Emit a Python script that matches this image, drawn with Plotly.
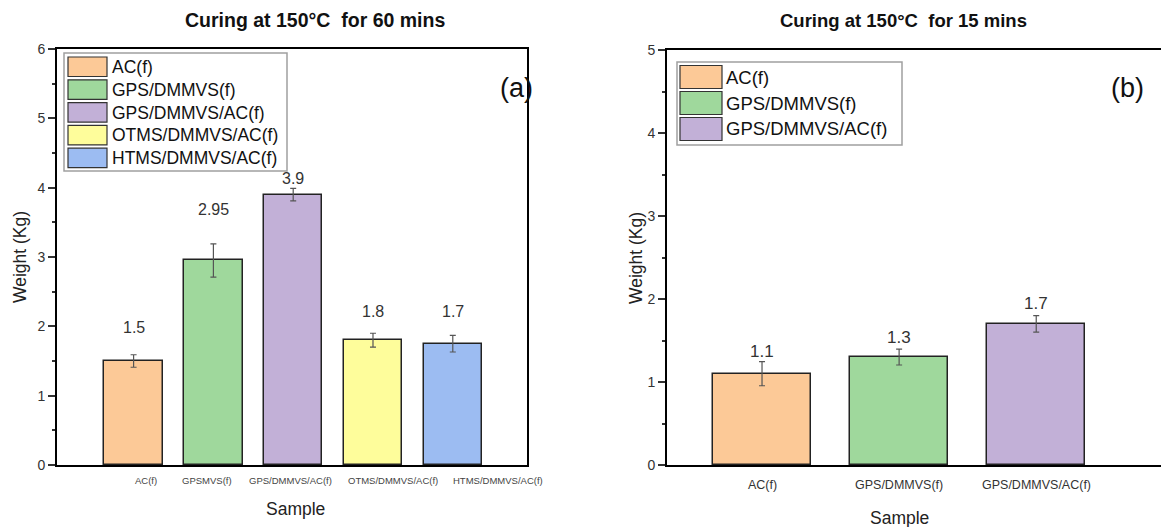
import plotly.graph_objects as go

# ---------------- data ----------------
cats_a = ["AC(f)", "GPSMVS(f)", "GPS/DMMVS/AC(f)", "OTMS/DMMVS/AC(f)", "HTMS/DMMVS/AC(f)"]
legend_a = ["AC(f)", "GPS/DMMVS(f)", "GPS/DMMVS/AC(f)", "OTMS/DMMVS/AC(f)", "HTMS/DMMVS/AC(f)"]
vals_a = [1.5, 2.95, 3.9, 1.8, 1.75]
errs_a = [0.09, 0.24, 0.09, 0.10, 0.12]
text_a = ["1.5", "2.95", "3.9", "1.8", "1.7"]
label_y_a = [1.99, 3.685, 4.13, 2.21, 2.21]
tick_shift_a = [12, -6, -3, 20, 45]

cats_b = ["AC(f)", "GPS/DMMVS(f)", "GPS/DMMVS/AC(f)"]
vals_b = [1.1, 1.3, 1.7]
errs_b = [0.145, 0.095, 0.10]
text_b = ["1.1", "1.3", "1.7"]
label_y_b = [1.37, 1.54, 1.94]

colors = ["#FCC997", "#9FD89C", "#C2B0D7", "#FEFD9B", "#9CBCF2"]

W, H = 1161, 527
FONT = "Arial, Liberation Sans, sans-serif"

def px(x):
    return x / W

def py(y):
    return 1 - y / H

fig = go.Figure()

for i, c in enumerate(cats_a):
    fig.add_trace(go.Bar(
        x=[i], y=[vals_a[i]], width=0.73,
        marker=dict(color=colors[i], line=dict(color="#222222", width=1.5)),
        error_y=dict(type="data", array=[errs_a[i]], color="#555555", thickness=1.2, width=3),
        xaxis="x", yaxis="y", showlegend=False))

for i, c in enumerate(cats_b):
    fig.add_trace(go.Bar(
        x=[i], y=[vals_b[i]], width=0.715,
        marker=dict(color=colors[i], line=dict(color="#222222", width=1.5)),
        error_y=dict(type="data", array=[errs_b[i]], color="#555555", thickness=1.2, width=3),
        xaxis="x2", yaxis="y2", showlegend=False))

ann = []

def note(x, y, text, size, color="#111111", xref="paper", yref="paper", xanchor="center",
         yanchor="middle", textangle=0, xshift=0):
    ann.append(dict(x=x, y=y, xref=xref, yref=yref, text=text, showarrow=False,
                    xanchor=xanchor, yanchor=yanchor, textangle=textangle, xshift=xshift,
                    font=dict(family=FONT, size=size, color=color)))

# value labels
for i, t in enumerate(text_a):
    note(i, label_y_a[i], t, 16, "#333333", xref="x", yref="y")
for i, t in enumerate(text_b):
    note(i, label_y_b[i], t, 17, "#333333", xref="x2", yref="y2")
# category labels
for i, c in enumerate(cats_a):
    note(i, py(480), c, 9.5, "#444444", xref="x", xshift=tick_shift_a[i])
for i, c in enumerate(cats_b):
    note(i, py(485), c, 12.5, "#333333", xref="x2")

# titles / axis titles / panel tags
note(px(315), py(20), "<b>Curing at 150°C&nbsp; for 60 mins</b>", 19.5)
note(px(903), py(20), "<b>Curing at 150°C&nbsp; for 15 mins</b>", 18.5)
note(px(516), py(88), "(a)", 27)
note(px(1127), py(88), "(b)", 27)
note(px(295), py(509), "Sample", 17.5, "#222222")
note(px(899), py(518), "Sample", 17.5, "#222222")
note(px(20), py(257), "Weight (Kg)", 17.5, "#222222", textangle=-90)
note(px(636), py(258), "Weight (Kg)", 17.5, "#222222", textangle=-90)

shapes = []
# legend (a)
shapes.append(dict(type="rect", xref="paper", yref="paper", x0=px(64), x1=px(287), y0=py(53), y1=py(171),
                   line=dict(color="#A0A0A0", width=1.5), fillcolor="white"))
for i, name in enumerate(legend_a):
    top = 57 + i * 22.8
    shapes.append(dict(type="rect", xref="paper", yref="paper", x0=px(68), x1=px(107),
                       y0=py(top), y1=py(top + 19.5), line=dict(color="#333333", width=1.2),
                       fillcolor=colors[i]))
    note(px(110), py(top + 10), name, 17.5, xanchor="left")
# legend (b)
shapes.append(dict(type="rect", xref="paper", yref="paper", x0=px(677), x1=px(902), y0=py(62), y1=py(145),
                   line=dict(color="#A0A0A0", width=1.5), fillcolor="white"))
for i, name in enumerate(cats_b):
    top = 65.5 + i * 26
    shapes.append(dict(type="rect", xref="paper", yref="paper", x0=px(680), x1=px(722),
                       y0=py(top), y1=py(top + 23), line=dict(color="#333333", width=1.2),
                       fillcolor=colors[i]))
    note(px(724), py(top + 11.5), name, 18.5, xanchor="left")

def yax(**kw):
    d = dict(showgrid=False, zeroline=False, showline=True, linecolor="black", linewidth=2,
             ticks="outside", ticklen=7, tickwidth=1.5, tickcolor="#333333", automargin=False,
             tickfont=dict(family=FONT, size=14, color="#333333"), dtick=1,
             minor=dict(ticks="outside", ticklen=3, tickwidth=1.5, tickcolor="#333333", dtick=0.5))
    d.update(kw)
    return d

fig.update_layout(
    width=W, height=H, margin=dict(l=0, r=0, t=0, b=0, autoexpand=False),
    paper_bgcolor="white", plot_bgcolor="white",
    bargap=0, showlegend=False,
    xaxis=dict(domain=[px(57), px(527)], range=[-0.96, 4.93], showticklabels=False, ticks="",
               automargin=False, showgrid=False, zeroline=False, showline=True,
               linecolor="black", linewidth=2, mirror=True),
    yaxis=yax(domain=[py(465), py(49)], range=[0, 6], mirror=True, anchor="x"),
    xaxis2=dict(domain=[px(667), 1.0], range=[-0.693, 2.91], anchor="y2", showticklabels=False,
                ticks="", automargin=False, showgrid=False, zeroline=False, showline=True,
                linecolor="black", linewidth=2, mirror=True),
    yaxis2=yax(domain=[py(465), py(50)], range=[0, 5], anchor="x2", mirror=False),
    annotations=ann, shapes=shapes,
)

fig.write_html("out.html")
